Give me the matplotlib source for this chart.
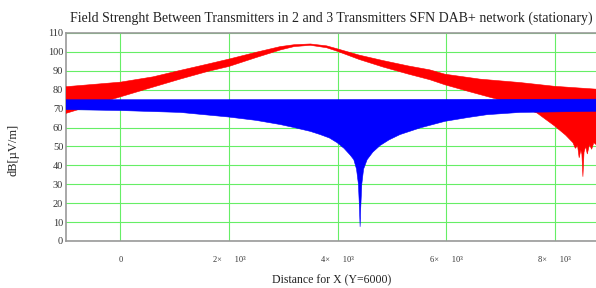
import numpy as np
import matplotlib
matplotlib.use("Agg")
import matplotlib.pyplot as plt

# values (distance X, field strength dB[uV/m])
red_top_x = [-1000, 0, 600, 1100, 1600, 2000, 2500, 2944, 3200, 3500, 3800, 4000, 4400, 4840, 5300, 5700,
             5980, 6624, 7360, 8000, 8760]
red_top_y = [81.6, 84.0, 86.8, 90.2, 93.5, 96.2, 99.8, 102.8, 103.8, 104.2, 103.2, 101.6, 98.3, 95.4, 92.6, 90.5,
             88.2, 85.6, 83.8, 81.8, 80.3]
red_low_x = [-1000, -200, 500, 1100, 1600, 2000, 2500, 2944, 3200, 3500, 3800, 4000, 4400, 4840, 5300, 5700,
             5980, 6450, 6937, 7300, 7673, 8004, 8200, 8335, 8380, 8420, 8450, 8480, 8500, 8519, 8540, 8570,
             8600, 8640, 8680, 8720, 8760]
red_low_y = [67.5, 74.5, 80.5, 85.6, 89.6, 92.3, 97.0, 101.0, 102.8, 103.5, 102.2, 100.3, 96.0, 92.0, 88.3, 85.3,
             82.6, 78.8, 75.0, 71.6, 67.7, 60.7, 56.0, 52.0, 49.0, 50.5, 44.0, 48.0, 46.0, 34.0, 47.0, 50.0,
             46.0, 51.0, 48.5, 52.0, 51.0]

blue_top_x = [-1000, 4000, 8760]
blue_top_y = [74.7, 74.8, 75.0]
blue_low_x = [-1000, 0, 1104, 1987, 2500, 2944, 3200, 3496, 3680, 3850, 3993, 4120, 4232, 4300, 4350, 4385,
              4405, 4416, 4427, 4447, 4480, 4545, 4650, 4784, 4950, 5152, 5520, 5980, 6400, 6753, 7360, 8760]
blue_low_y = [69.5, 69.0, 68.0, 65.6, 63.8, 61.6, 60.0, 58.0, 56.3, 54.5, 52.0, 49.0, 45.5, 43.0, 38.0, 30.0,
              17.0, 7.5, 17.0, 30.0, 38.0, 43.0, 47.0, 50.5, 53.5, 56.3, 59.8, 63.3, 65.3, 66.8, 68.0, 68.6]

xticks = [0, 2000, 4000, 6000, 8000]
xtick_labels = ["0", "2\u00d7      10\u00b3", "4\u00d7      10\u00b3", "6\u00d7      10\u00b3", "8\u00d7      10\u00b3"]
yticks = list(range(0, 111, 10))

plt.rcParams["font.family"] = ["Liberation Serif", "DejaVu Serif"]

fig = plt.figure(figsize=(5.96, 2.88), dpi=100)
ax = fig.add_axes([66 / 596, 1 - 241 / 288, 1 - 66 / 596, 208 / 288])

ax.fill(np.r_[red_top_x, red_low_x[::-1]], np.r_[red_top_y, red_low_y[::-1]],
        color="#ff0000", lw=0.4, zorder=3)
ax.fill(np.r_[blue_top_x, blue_low_x[::-1]], np.r_[blue_top_y, blue_low_y[::-1]],
        color="#0000ff", lw=0.4, zorder=4)

ax.set_xlim(-1000, 8760)
ax.set_ylim(0, 110)
ax.set_xticks(xticks)
ax.set_xticklabels(xtick_labels, fontsize=6)
ax.set_yticks(yticks)
ax.set_yticklabels([str(v) for v in yticks], fontsize=7.5)
ax.tick_params(axis="x", length=0, pad=11, colors="#333333")
ax.tick_params(axis="y", length=0, pad=2, colors="#333333")
ax.grid(True, color="#66ee66", lw=0.8, zorder=1)

for side in ["left", "bottom", "top"]:
    ax.spines[side].set_color("#999999")
    ax.spines[side].set_linewidth(1.2)
ax.spines["right"].set_visible(False)

fig.text(331 / 596, 1 - 18 / 288, "Field Strenght Between Transmitters in 2 and 3 Transmitters SFN DAB+ network (stationary)",
         ha="center", va="center", fontsize=10, color="#222222")
fig.text(332 / 596, 1 - 280 / 288, "Distance for X (Y=6000)", ha="center", va="center", fontsize=8.5, color="#222222")
fig.text(14 / 596, 1 - 150 / 288, "dB[\u00b5V/m]", ha="center", va="center", rotation=90, fontsize=9, color="#222222")

fig.savefig("out.png", dpi=100)
